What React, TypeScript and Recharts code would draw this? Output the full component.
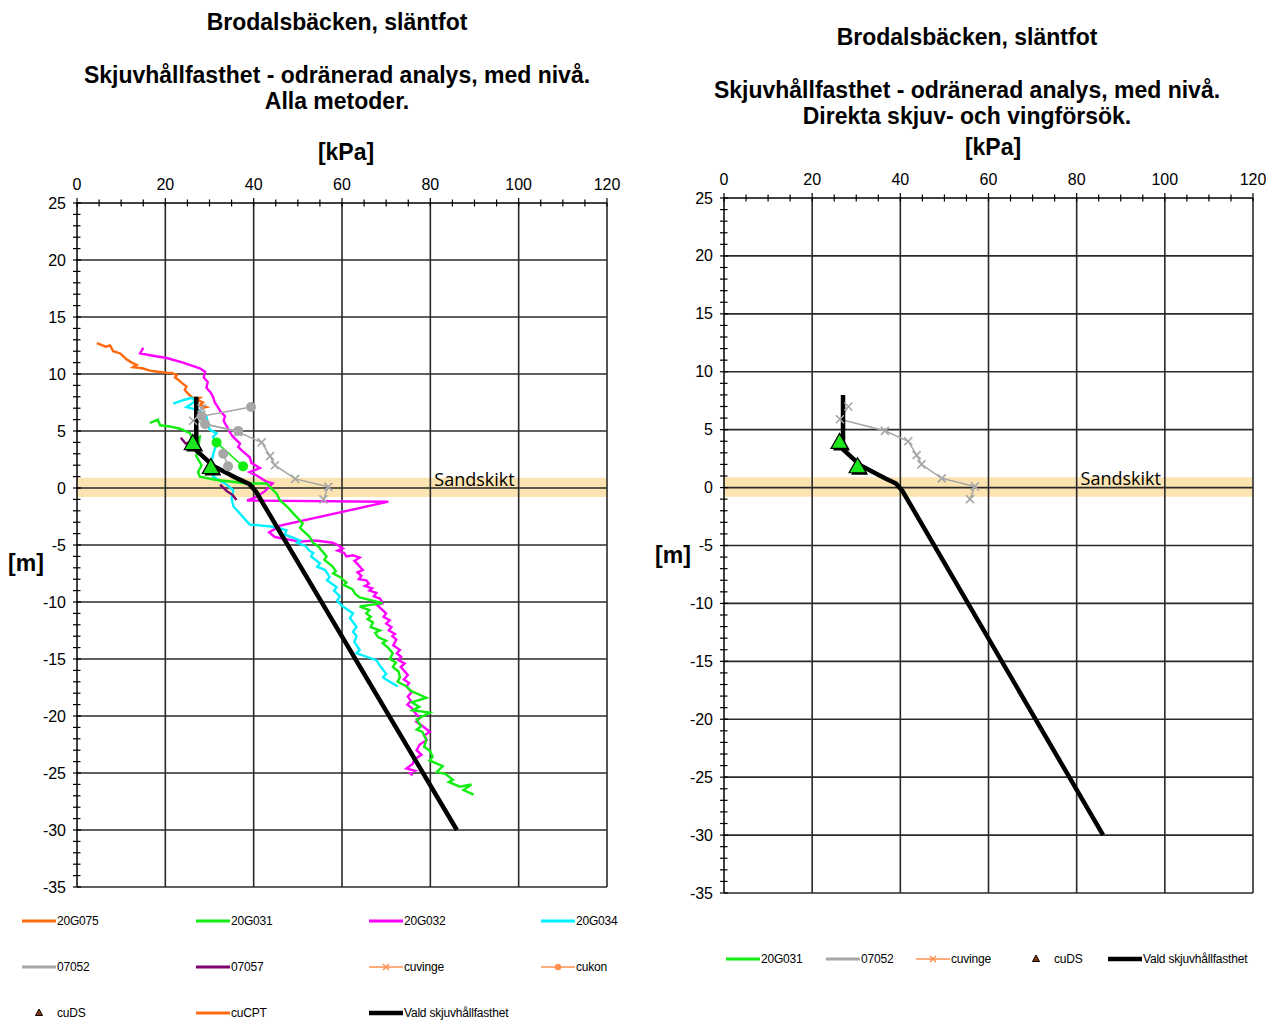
import React from 'react'
import {
  ComposedChart,
  Line,
  XAxis,
  YAxis,
  ReferenceLine,
  ReferenceArea,
  ReferenceDot,
} from 'recharts'

// [kPa, nivå m] pairs per sounding / test
const cpt20G075: [number, number][] = [
  [4.5, 12.7], [6.5, 12.4], [7.5, 12.5], [8.2, 12.0], [9.8, 11.8], [11.2, 11.3], [12.4, 11.0],
  [13.5, 10.8], [12.7, 10.6], [14.8, 10.5], [16.5, 10.3], [18.4, 10.2], [20.3, 10.1], [21.5, 10.1],
  [22.6, 9.9], [22.2, 9.7], [22.9, 9.5], [23.8, 9.2], [24.8, 8.9], [24.4, 8.6], [25.1, 8.3],
  [26.2, 7.9], [27.8, 7.9], [27.2, 7.7], [28.5, 7.5], [27.9, 7.3], [29.3, 7.1], [28.2, 7.0],
]

const cpt20G032: [number, number][] = [
  [15.0, 12.3], [14.3, 11.8], [17.2, 11.6], [20.3, 11.4], [24.0, 11.0], [27.8, 10.5], [29.0, 10.2],
  [28.7, 9.7], [29.6, 9.3], [29.3, 8.8], [30.2, 8.4], [30.8, 8.0], [31.2, 7.5], [31.9, 7.1],
  [32.5, 6.7], [33.5, 6.3], [33.2, 5.9], [33.9, 5.4], [34.6, 4.9], [35.3, 4.5], [36.9, 3.9],
  [36.5, 3.6], [37.3, 3.3], [38.2, 3.0], [39.1, 2.7], [39.5, 2.2], [41.4, 1.75], [39.1, 1.4],
  [40.7, 1.1], [42.9, 0.55], [44.3, 0.4], [42.5, -0.3], [40.5, -0.8], [38.5, -1.1], [70.5, -1.2],
  [46.0, -3.3], [43.5, -3.9], [44.8, -4.3], [47.5, -4.5], [50.5, -4.7], [54.0, -4.6], [57.9, -4.8],
  [59.0, -5.0], [60.2, -5.3], [59.0, -5.5], [60.5, -5.7], [61.0, -6.0], [62.5, -5.9], [64.0, -6.1],
  [62.8, -6.4], [63.6, -6.7], [64.7, -7.2], [63.5, -7.4], [64.4, -7.7], [63.8, -8.0], [65.5, -8.1],
  [66.1, -8.4], [65.2, -8.6], [66.8, -8.8], [66.2, -9.0], [67.8, -9.2], [67.2, -9.5], [68.6, -9.7],
  [69.2, -10.1], [68.0, -10.3], [68.9, -10.6], [70.0, -11.0], [69.4, -11.3], [70.8, -11.6],
  [70.0, -11.9], [71.2, -12.2], [70.6, -12.5], [72.0, -12.8], [71.4, -13.0], [72.3, -13.3],
  [71.6, -13.8], [73.1, -14.2], [72.4, -14.5], [73.4, -14.8], [72.8, -15.1], [74.2, -15.4],
  [73.3, -15.7], [74.0, -16.0], [74.9, -16.4], [74.0, -16.8], [75.2, -17.1], [74.6, -17.4],
  [75.8, -17.9], [74.9, -18.3], [75.6, -18.7], [74.8, -19.0], [75.8, -19.3], [76.5, -19.7],
  [77.6, -20.2], [76.8, -20.5], [78.3, -20.9], [79.9, -21.4], [78.6, -21.7], [79.2, -22.1],
  [77.6, -22.5], [76.9, -23.0], [78.0, -23.4], [76.4, -23.8], [76.0, -24.2], [74.6, -24.6],
  [76.5, -24.8], [75.4, -25.0], [76.0, -25.2],
]

const cpt20G031: [number, number][] = [
  [16.5, 5.7], [18.3, 6.0], [18.8, 5.5], [21.0, 5.4], [23.3, 5.2], [25.6, 4.8], [26.2, 4.2],
  [27.8, 4.5], [27.5, 3.6], [27.0, 2.8], [28.2, 2.0], [27.4, 1.4], [27.8, 1.0], [31.6, 0.7],
  [35.3, 0.55], [38.4, 0.4], [42.9, 0.4], [45.2, -0.5], [45.9, -1.05], [47.5, -1.6], [48.9, -2.2],
  [51.1, -3.1], [50.5, -3.5], [52.7, -4.3], [53.4, -4.8], [54.6, -5.1], [55.2, -5.4], [56.5, -6.0],
  [56.0, -6.3], [57.9, -6.9], [58.6, -7.3], [58.0, -7.5], [59.5, -7.8], [61.0, -8.3], [60.4, -8.5],
  [62.4, -8.9], [63.0, -9.3], [64.0, -9.6], [69.2, -10.1], [64.0, -10.4], [66.2, -10.7],
  [65.5, -11.0], [66.5, -11.3], [65.8, -11.5], [67.0, -11.8], [66.5, -12.2], [68.6, -12.5],
  [67.5, -12.7], [68.2, -13.1], [70.0, -13.4], [69.2, -13.6], [70.4, -14.0], [71.5, -14.5],
  [70.8, -15.0], [72.2, -15.3], [71.5, -15.7], [72.8, -16.1], [73.1, -16.6], [72.6, -17.0],
  [74.6, -17.4], [75.6, -17.8], [79.1, -18.4], [75.8, -18.8], [77.5, -19.2], [76.0, -19.5],
  [79.9, -19.7], [76.9, -20.3], [77.9, -20.9], [76.9, -21.2], [78.2, -21.4], [79.1, -22.1],
  [78.6, -22.7], [80.0, -23.1], [80.5, -23.6], [79.8, -23.9], [82.8, -24.4], [81.5, -24.9],
  [83.5, -25.1], [85.1, -25.6], [84.2, -25.8], [86.7, -26.2], [89.3, -26.0], [87.5, -26.5],
  [89.8, -26.9],
]

const cpt20G034: [number, number][] = [
  [21.8, 7.4], [24.0, 7.7], [26.0, 7.9], [26.8, 7.6], [24.8, 7.1], [27.8, 6.8], [29.3, 6.3],
  [29.7, 5.5], [30.1, 5.1], [31.6, 4.8], [30.8, 4.5], [31.6, 3.9], [31.0, 3.2], [30.5, 2.4],
  [31.2, 1.6], [30.8, 1.0], [33.5, 0.4], [35.4, -0.2], [35.0, -0.9], [35.4, -1.6], [39.1, -3.2],
  [44.4, -3.4], [47.4, -3.7], [47.1, -4.1], [48.6, -4.3], [50.5, -4.6], [49.8, -4.8],
  [51.8, -5.1], [52.6, -5.5], [53.5, -5.7], [53.0, -6.0], [55.0, -6.6], [54.4, -6.9],
  [56.2, -7.2], [57.2, -7.8], [56.6, -8.1], [58.8, -8.7], [58.2, -9.0], [59.5, -9.5],
  [58.9, -9.9], [60.2, -10.4], [62.5, -11.0], [61.8, -11.4], [63.3, -12.2], [62.5, -12.6],
  [63.3, -13.0], [62.8, -13.5], [64.0, -14.2], [63.3, -14.5], [67.8, -15.1], [68.6, -15.6],
  [70.0, -16.3], [69.3, -16.6], [70.0, -16.8], [72.6, -17.4],
]

const cpt07057a: [number, number][] = [[23.5, 4.4], [24.6, 3.9], [26.0, 4.1]]
const cpt07057b: [number, number][] = [[32.4, 0.3], [34.0, -0.3], [35.2, -0.6], [36.1, -1.05]]

// vingförsök 07052
const vane07052: [number, number][] = [
  [28.2, 7.0], [26.3, 5.9], [36.5, 4.9], [41.8, 4.0], [43.7, 2.8], [44.8, 2.0], [49.4, 0.8],
  [56.9, 0.1], [55.8, -1.0],
]

// konförsök
const kon07052a: [number, number][] = [[28.2, 6.3], [39.4, 7.1]]
const kon07052b: [number, number][] = [[29.0, 5.6], [36.5, 5.0]]
const kon07052c: [number, number][] = [[33.1, 3.0], [34.2, 1.9]]
const kon20G031: [number, number][] = [[31.6, 4.0], [37.6, 1.9]]

// direkta skjuvförsök
const cuDS: [number, number][] = [[26.2, 3.9], [30.3, 1.8]]

const valdCu: [number, number][] = [
  [27, 8], [27, 3.3], [31, 1.9], [36.5, 0.8], [39, 0.35], [40.5, -0.3], [86, -30],
]

const KPA_MAJOR = [0, 20, 40, 60, 80, 100, 120]
const DEPTH_MAJOR = [25, 20, 15, 10, 5, 0, -5, -10, -15, -20, -25, -30, -35]
const SAND_LAYER = { top: 0.9, bottom: -0.8 }

const KPA_TICKS: number[] = []
for (let v = 0; v <= 120; v += 5) KPA_TICKS.push(v)
const DEPTH_TICKS: number[] = []
for (let v = 25; v >= -35; v -= 1) DEPTH_TICKS.push(v)

const toPts = (arr: [number, number][]) => arr.map(([kpa, depth]) => ({ kpa, depth }))

const C = {
  orange: '#FF6A10',
  green: '#12EE12',
  magenta: '#FF00FF',
  cyan: '#00F0FF',
  gray: '#A6A6A6',
  purple: '#800070',
  lightOrange: '#FF9050',
  grid: '#2a2a2a',
}

const FONT = '"Liberation Sans", Arial, sans-serif'

const kpaTick = (props: any) => {
  const { x, y, payload } = props
  const major = payload.value % 20 === 0
  return (
    <g>
      <line x1={x} x2={x} y1={y - (major ? 5 : 3.5)} y2={y + 3.5} stroke="#000" strokeWidth={1.2} />
      {major && (
        <text x={x} y={y - 13} textAnchor="middle" fontSize={16} fontFamily={FONT} fill="#000">
          {payload.value}
        </text>
      )}
    </g>
  )
}

const depthTick = (props: any) => {
  const { x, y, payload } = props
  const major = payload.value % 5 === 0
  return (
    <g>
      <line x1={x - 4} x2={x + (major ? 4 : 3.5)} y1={y} y2={y} stroke="#000" strokeWidth={1.2} />
      {major && (
        <text x={x - 11} y={y + 5.5} textAnchor="end" fontSize={16} fontFamily={FONT} fill="#000">
          {payload.value}
        </text>
      )}
    </g>
  )
}

const crossDot = (color: string) => (p: any) => (
  <path
    key={`x-${p.index}`}
    d={`M${p.cx - 4},${p.cy - 4}L${p.cx + 4},${p.cy + 4}M${p.cx - 4},${p.cy + 4}L${p.cx + 4},${p.cy - 4}`}
    stroke={color}
    strokeWidth={1.6}
    fill="none"
  />
)

const circleDot = (color: string) => (p: any) => (
  <circle key={`c-${p.index}`} cx={p.cx} cy={p.cy} r={5} fill={color} stroke="none" />
)

const triangleDot = (p: any) => {
  const { cx, cy } = p
  const tri = (dx: number, dy: number) =>
    `M${cx + dx},${cy - 9 + dy}L${cx + 8.5 + dx},${cy + 6 + dy}L${cx - 8.5 + dx},${cy + 6 + dy}Z`
  return (
    <g key={`t-${p.index}`}>
      <path d={tri(2, 2)} fill="#000" />
      <path d={tri(0, 0)} fill="#1EE61E" stroke="#000" strokeWidth={1.2} />
    </g>
  )
}

function Panel({
  width,
  height,
  margin,
  all,
}: {
  width: number
  height: number
  margin: { top: number; left: number; right: number; bottom: number }
  all: boolean
}) {
  return (
    <ComposedChart width={width} height={height} margin={margin}>
      <XAxis
        type="number"
        dataKey="kpa"
        domain={[0, 120]}
        ticks={KPA_TICKS}
        interval={0}
        orientation="top"
        height={40}
        tickSize={0}
        tickMargin={0}
        tickLine={false}
        tick={kpaTick}
        axisLine={{ stroke: '#000', strokeWidth: 1.5 }}
        allowDataOverflow
      />
      <YAxis
        type="number"
        domain={[-35, 25]}
        ticks={DEPTH_TICKS}
        interval={0}
        width={60}
        tickSize={0}
        tickMargin={0}
        tickLine={false}
        tick={depthTick}
        axisLine={{ stroke: '#000', strokeWidth: 1.5 }}
        allowDataOverflow
      />
      {KPA_MAJOR.filter((v) => v > 0).map((v) => (
        <ReferenceLine key={`gx${v}`} x={v} stroke={C.grid} strokeWidth={1.6} />
      ))}
      {DEPTH_MAJOR.filter((v) => v < 25).map((v) => (
        <ReferenceLine key={`gy${v}`} y={v} stroke={C.grid} strokeWidth={1.6} />
      ))}

      {all && (
        <Line data={toPts(cpt20G075)} dataKey="depth" stroke={C.orange} strokeWidth={2.4} dot={false} isAnimationActive={false} />
      )}
      {all && (
        <Line data={toPts(cpt20G032)} dataKey="depth" stroke={C.magenta} strokeWidth={2.4} dot={false} isAnimationActive={false} />
      )}
      {all && (
        <Line data={toPts(cpt20G034)} dataKey="depth" stroke={C.cyan} strokeWidth={2.4} dot={false} isAnimationActive={false} />
      )}
      {all && (
        <Line data={toPts(cpt20G031)} dataKey="depth" stroke={C.green} strokeWidth={2.4} dot={false} isAnimationActive={false} />
      )}
      {all && (
        <Line data={toPts(cpt07057a)} dataKey="depth" stroke={C.purple} strokeWidth={2.4} dot={false} isAnimationActive={false} />
      )}
      {all && (
        <Line data={toPts(cpt07057b)} dataKey="depth" stroke={C.purple} strokeWidth={2.4} dot={false} isAnimationActive={false} />
      )}
      {all &&
        [kon07052a, kon07052b, kon07052c].map((arr, i) => (
          <Line key={`kon${i}`} data={toPts(arr)} dataKey="depth" stroke={C.gray} strokeWidth={1.5} dot={circleDot(C.gray)} isAnimationActive={false} />
        ))}
      {all && (
        <Line data={toPts(kon20G031)} dataKey="depth" stroke={C.green} strokeWidth={1.5} dot={circleDot(C.green)} isAnimationActive={false} />
      )}
      <Line data={toPts(vane07052)} dataKey="depth" stroke={C.gray} strokeWidth={1.5} dot={crossDot(C.gray)} isAnimationActive={false} />
      <Line data={toPts(valdCu)} dataKey="depth" stroke="#000" strokeWidth={4.5} dot={false} strokeLinejoin="round" isAnimationActive={false} />
      <Line data={toPts(cuDS)} dataKey="depth" stroke="none" strokeWidth={0} dot={triangleDot} isAnimationActive={false} />

      <ReferenceArea
        y1={SAND_LAYER.bottom}
        y2={SAND_LAYER.top}
        fill="#F5BF45"
        fillOpacity={0.42}
        stroke="none"
      />
      <ReferenceDot
        x={90}
        y={0.75}
        r={0}
        fill="none"
        stroke="none"
        label={{ value: 'Sandskikt', position: 'center', fontSize: 18, fill: '#000', fontFamily: '"Open Sans", sans-serif' }}
      />
    </ComposedChart>
  )
}

type LegendKind = 'line' | 'thick' | 'cross' | 'dot' | 'tri'
const LEFT_LEGEND: { name: string; color: string; kind: LegendKind }[] = [
  { name: '20G075', color: C.orange, kind: 'line' },
  { name: '20G031', color: C.green, kind: 'line' },
  { name: '20G032', color: C.magenta, kind: 'line' },
  { name: '20G034', color: C.cyan, kind: 'line' },
  { name: '07052', color: C.gray, kind: 'line' },
  { name: '07057', color: C.purple, kind: 'line' },
  { name: 'cuvinge', color: C.lightOrange, kind: 'cross' },
  { name: 'cukon', color: C.lightOrange, kind: 'dot' },
  { name: 'cuDS', color: '#8B3A0F', kind: 'tri' },
  { name: 'cuCPT', color: C.orange, kind: 'line' },
  { name: 'Vald skjuvhållfasthet', color: '#000', kind: 'thick' },
]
const RIGHT_LEGEND: { name: string; color: string; kind: LegendKind }[] = [
  { name: '20G031', color: C.green, kind: 'line' },
  { name: '07052', color: C.gray, kind: 'line' },
  { name: 'cuvinge', color: C.lightOrange, kind: 'cross' },
  { name: 'cuDS', color: '#8B3A0F', kind: 'tri' },
  { name: 'Vald skjuvhållfasthet', color: '#000', kind: 'thick' },
]

function LegendItem({ x, y, name, color, kind }: { x: number; y: number; name: string; color: string; kind: LegendKind }) {
  return (
    <div style={{ position: 'absolute', left: x, top: y - 8, height: 16, display: 'flex', alignItems: 'center', whiteSpace: 'nowrap' }}>
      <svg width={35} height={16} style={{ display: 'block' }}>
        {kind !== 'tri' && (
          <line x1={0} x2={34} y1={8} y2={8} stroke={color} strokeWidth={kind === 'thick' ? 4.5 : kind === 'line' ? 3 : 1.6} />
        )}
        {kind === 'cross' && <path d="M14,5L20,11M14,11L20,5" stroke={color} strokeWidth={1.5} />}
        {kind === 'dot' && <circle cx={17} cy={8} r={3.2} fill={color} />}
        {kind === 'tri' && <path d="M17,4L20.5,10.5L13.5,10.5Z" fill={color} stroke="#000" strokeWidth={1} />}
      </svg>
      <span style={{ fontSize: 12, fontFamily: FONT, color: '#000', letterSpacing: -0.2 }}>{name}</span>
    </div>
  )
}

const titleStyle = (cx: number, cy: number): React.CSSProperties => ({
  position: 'absolute',
  left: cx - 320,
  width: 640,
  top: cy - 13,
  lineHeight: '26px',
  textAlign: 'center',
  fontFamily: FONT,
  fontWeight: 700,
  fontSize: 23,
  color: '#000',
  whiteSpace: 'nowrap',
})

export default function App() {
  const leftCols = [22, 196, 369, 541]
  const leftRows = [921, 967, 1013]
  const rightCols = [726, 826, 916, 1019, 1108]
  return (
    <div style={{ position: 'absolute', left: 0, top: 0, width: 1266, height: 1021, background: '#fff', overflow: 'hidden' }}>
      <div style={titleStyle(337, 22)}>Brodalsbäcken, släntfot</div>
      <div style={titleStyle(337, 75)}>Skjuvhållfasthet - odränerad analys, med nivå.</div>
      <div style={titleStyle(337, 101)}>Alla metoder.</div>
      <div style={titleStyle(346, 152)}>[kPa]</div>
      <div style={titleStyle(26, 563)}>[m]</div>

      <div style={titleStyle(967, 37)}>Brodalsbäcken, släntfot</div>
      <div style={titleStyle(967, 90)}>Skjuvhållfasthet - odränerad analys, med nivå.</div>
      <div style={titleStyle(967, 116)}>Direkta skjuv- och vingförsök.</div>
      <div style={titleStyle(993, 147)}>[kPa]</div>
      <div style={titleStyle(673, 555)}>[m]</div>

      <div style={{ position: 'absolute', left: 0, top: 0 }}>
        <Panel width={640} height={900} margin={{ top: 163, left: 17, right: 33, bottom: 13 }} all />
      </div>
      <div style={{ position: 'absolute', left: 640, top: 0 }}>
        <Panel width={626} height={910} margin={{ top: 158, left: 24, right: 13, bottom: 17 }} all={false} />
      </div>

      {LEFT_LEGEND.map((it, i) => (
        <LegendItem key={it.name + i} x={leftCols[i % 4]} y={leftRows[Math.floor(i / 4)]} {...it} />
      ))}
      {RIGHT_LEGEND.map((it, i) => (
        <LegendItem key={it.name + i} x={rightCols[i]} y={959} {...it} />
      ))}
    </div>
  )
}
